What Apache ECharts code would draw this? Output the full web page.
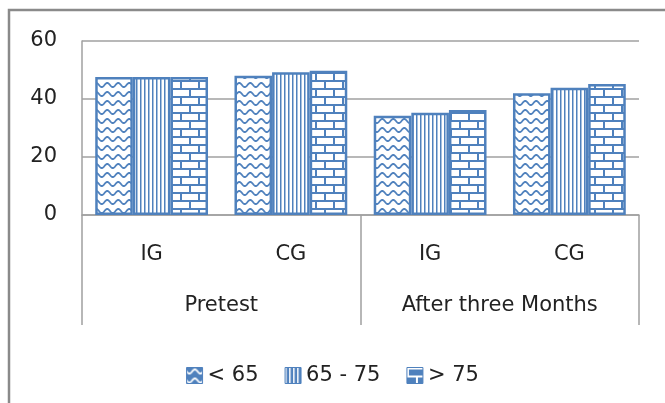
<!DOCTYPE html>
<html><head><meta charset="utf-8">
<script src="https://cdn.jsdelivr.net/npm/echarts@6/dist/echarts.min.js"></script>
<style>html,body{margin:0;padding:0;background:#fff}#c{width:665px;height:403px}</style>
</head><body><div id="c"></div>
<script>
var categories = ['IG', 'CG', 'IG', 'CG'];
var groups = ['Pretest', 'After three Months'];
var seriesNames = ['< 65', '65 - 75', '> 75'];
var lt65 = [47.6, 48.0, 34.2, 42.0];
var r65to75 = [47.6, 49.2, 35.3, 43.9];
var gt75 = [47.6, 49.7, 36.2, 45.2];
var yTicks = [0, 20, 40, 60];

var BLUE = '#4F81BD';
var FONT = 'DejaVu Sans';

function mk(w, h, bg, fg, draw) {
  var c = document.createElement('canvas');
  c.width = w; c.height = h;
  var x = c.getContext('2d');
  x.fillStyle = bg; x.fillRect(0, 0, w, h);
  x.strokeStyle = fg; x.fillStyle = fg;
  draw(x, w, h);
  return c;
}
function wave(bg, fg) {
  return mk(11, 9, bg, fg, function (x, w, h) {
    x.lineWidth = 1.8;
    x.beginPath();
    for (var i = -1; i <= w + 1; i += 0.5) {
      var yy = 4 + 2 * Math.sin(i / w * Math.PI * 2);
      if (i === -1) x.moveTo(i, yy); else x.lineTo(i, yy);
    }
    x.stroke();
  });
}
function vlines(bg, fg) {
  return mk(4, 4, bg, fg, function (x, w, h) {
    x.fillRect(0, 0, 1.5, h);
  });
}
function bricks(bg, fg) {
  return mk(18, 16, bg, fg, function (x, w, h) {
    x.fillRect(0, 0, w, 2);
    x.fillRect(0, 8, w, 2);
    x.fillRect(0, 0, 2, 8);
    x.fillRect(9, 8, 2, 8);
  });
}
var fills = [wave('#fff', BLUE), vlines('#fff', BLUE), bricks('#fff', BLUE)];
var iconFills = [wave(BLUE, '#fff'), vlines(BLUE, '#fff'), bricks(BLUE, '#fff')];
var values = [lt65, r65to75, gt75];

var chart = echarts.init(document.getElementById('c'), null, {renderer: 'canvas'});
var series = seriesNames.map(function (n, i) {
  return {
    name: n, type: 'bar', xAxisIndex: 0, data: values[i],
    barGap: '0%', barCategoryGap: '19%',
    itemStyle: {color: {image: fills[i], repeat: 'repeat'}, borderColor: BLUE, borderWidth: 2.5},
    emphasis: {disabled: true}
  };
});
chart.setOption({
  animation: false,
  grid: {left: 82, right: 26, top: 41, bottom: 188, containLabel: false},
  legend: {
    bottom: 12, left: 'center', itemWidth: 16, itemHeight: 16, itemGap: 26,
    textStyle: {fontFamily: FONT, fontSize: 21, color: '#222'},
    data: seriesNames.map(function (n, i) {
      return {name: n, icon: 'rect', itemStyle: {color: {image: iconFills[i], repeat: 'repeat'}, borderColor: BLUE, borderWidth: 1}};
    })
  },
  xAxis: [{
    type: 'category', data: categories, position: 'bottom',
    axisLine: {lineStyle: {color: '#a0a0a0', width: 1.5}},
    axisTick: {show: false},
    axisLabel: {margin: 29, fontFamily: FONT, fontSize: 21, color: '#222'}
  }, {
    type: 'category', data: groups, position: 'bottom',
    axisLine: {show: false},
    axisTick: {show: true, length: 110, lineStyle: {color: '#a0a0a0', width: 1.5}},
    axisLabel: {margin: 80, fontFamily: FONT, fontSize: 21, color: '#222'}
  }],
  yAxis: {
    type: 'value', min: 0, max: 60, interval: 20,
    axisLine: {show: true, lineStyle: {color: '#a0a0a0', width: 1.5}},
    axisTick: {show: false},
    splitLine: {lineStyle: {color: '#a0a0a0', width: 1.5}},
    axisLabel: {margin: 25, fontFamily: FONT, fontSize: 21, color: '#222',
      formatter: function (v) { return yTicks.indexOf(v) >= 0 ? String(v) : ''; }}
  },
  graphic: [
    {type: 'polyline', shape: {points: [[9, 403], [9, 10], [665, 10]]}, style: {stroke: '#8a8a8a', lineWidth: 2.5, fill: null}, silent: true}
  ],
  series: series
});
</script></body></html>
